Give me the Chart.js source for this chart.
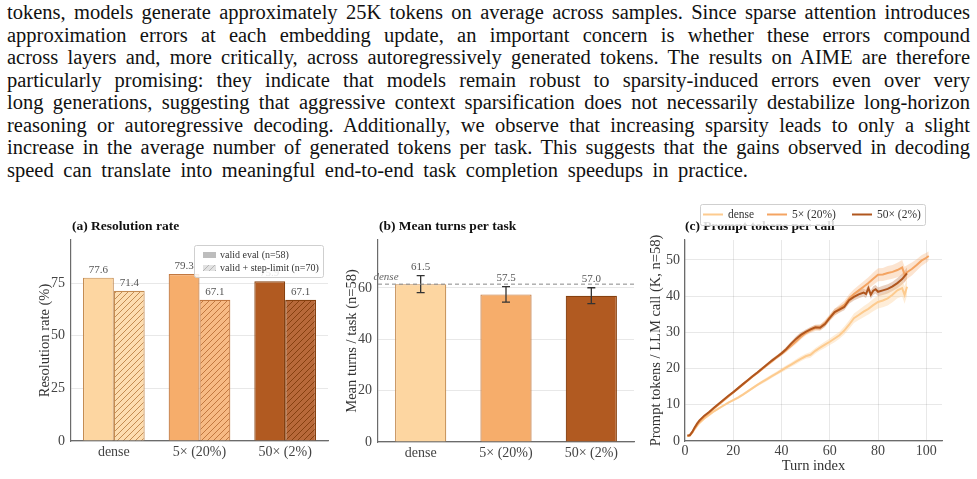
<!DOCTYPE html>
<html>
<head>
<meta charset="utf-8">
<script src="https://cdn.jsdelivr.net/npm/chart.js@4.4.1/dist/chart.umd.min.js"></script>
<style>
  html, body { margin: 0; padding: 0; background: #fff; width: 977px; height: 479px; overflow: hidden; }
  body { position: relative; }
  #text { position: absolute; left: 7px; top: 1px; width: 963px;
          font-family: "Liberation Serif", serif; font-size: 20.5px; line-height: 22.5px; color: #111; }
  #text div { text-align: justify; text-align-last: justify; word-spacing: -3px; white-space: nowrap; height: 22.5px; }
  #text div.last { width: 741px; word-spacing: 0; }
  canvas { position: absolute; }
</style>
</head>
<body>
<div id="text">
  <div>tokens, models generate approximately 25K tokens on average across samples. Since sparse attention introduces</div>
  <div>approximation errors at each embedding update, an important concern is whether these errors compound</div>
  <div>across layers and, more critically, across autoregressively generated tokens. The results on AIME are therefore</div>
  <div>particularly promising: they indicate that models remain robust to sparsity-induced errors even over very</div>
  <div>long generations, suggesting that aggressive context sparsification does not necessarily destabilize long-horizon</div>
  <div>reasoning or autoregressive decoding. Additionally, we observe that increasing sparsity leads to only a slight</div>
  <div>increase in the average number of generated tokens per task. This suggests that the gains observed in decoding</div>
  <div class="last">speed can translate into meaningful end-to-end task completion speedups in practice.</div>
</div>
<canvas id="chartA" width="340" height="269" style="left:0;top:210px"></canvas>
<canvas id="chartB" width="300" height="269" style="left:340px;top:210px"></canvas>
<canvas id="chartC" width="337" height="279" style="left:640px;top:200px"></canvas>

<script>
// keep every paragraph line on one row: shrink a line only if it would overflow
document.querySelectorAll("#text div").forEach(el => {
  let fs = 20.5;
  while (el.scrollWidth > el.clientWidth + 0.5 && fs > 17) {
    fs -= 0.25;
    el.style.fontSize = fs + "px";
  }
});

// ---- data ----
const categories = ["dense", "5× (20%)", "50× (2%)"];
const resolutionValid = [77.6, 79.3, 75.9];
const resolutionStepLimit = [71.4, 67.1, 67.1];
const meanTurns = [61.5, 57.5, 57.0];
const meanTurnsErr = [3.3, 3.0, 3.1];
const denseTurnsRef = 61.5;

const ticksA = [0, 25, 50, 75];
const ticksB = [0, 20, 40, 60];
const ticksCx = [0, 20, 40, 60, 80, 100];
const ticksCy = [0, 10, 20, 30, 40, 50];

const turnsDense = [1, 2, 3, 4, 5, 6, 8, 10, 12, 14, 16, 18, 20, 22, 24, 26, 28, 30, 32, 34, 36, 38, 40, 42, 44, 46, 48, 50,
  52, 54, 56, 58, 60, 62, 64, 66, 68, 70, 72, 74, 76, 78, 80, 82, 84, 86, 88, 90, 91, 92];
const tokensDense = [1.3, 1.5, 2.3, 3.3, 4.2, 5.0, 6.2, 7.2, 8.2, 9.0, 9.8, 10.6, 11.3, 12.0, 12.8, 13.7, 14.6, 15.5, 16.3, 17.1,
  17.9, 18.7, 19.5, 20.3, 21.1, 21.9, 22.7, 23.4, 23.8, 24.9, 25.8, 26.6, 27.4, 28.3, 29.2, 30.5, 32.1, 33.9, 34.8, 35.7,
  36.5, 37.5, 38.4, 38.8, 39.4, 40.4, 41.6, 42.2, 40.3, 42.6];
const bandDense = [0.1, 0.1, 0.1, 0.2, 0.2, 0.2, 0.2, 0.3, 0.3, 0.3, 0.3, 0.3, 0.3, 0.4, 0.4, 0.4, 0.4, 0.4, 0.5, 0.5,
  0.5, 0.5, 0.6, 0.6, 0.6, 0.7, 0.7, 0.7, 0.8, 0.8, 0.8, 0.9, 0.9, 1.0, 1.0, 1.1, 1.2, 1.3, 1.4, 1.5,
  1.6, 1.7, 1.8, 1.9, 2.0, 2.1, 2.2, 2.3, 2.4, 2.4];

const turns5x = [1, 2, 3, 4, 5, 6, 8, 10, 12, 14, 16, 18, 20, 22, 24, 26, 28, 30, 32, 34, 36, 38, 40, 42, 44, 46, 48, 50,
  52, 54, 56, 58, 60, 62, 64, 66, 68, 70, 72, 74, 76, 78, 80, 82, 84, 86, 88, 90, 91, 92, 94, 96, 98, 100, 101];
const tokens5x = [1.4, 1.6, 2.4, 3.5, 4.5, 5.4, 6.7, 7.8, 9.0, 10.1, 11.2, 12.3, 13.4, 14.5, 15.6, 16.7, 17.8, 18.8, 19.9, 21.0,
  22.0, 23.1, 24.1, 25.1, 26.3, 27.5, 28.7, 29.8, 30.6, 31.2, 31.4, 32.5, 34.1, 35.5, 36.6, 37.6, 39.3, 40.6, 41.6, 42.6,
  43.6, 44.8, 45.9, 46.0, 46.4, 46.7, 47.2, 47.9, 45.9, 46.6, 47.5, 48.6, 49.8, 50.6, 51.1];
const band5x = [0.1, 0.1, 0.1, 0.2, 0.2, 0.2, 0.2, 0.3, 0.3, 0.3, 0.3, 0.3, 0.3, 0.4, 0.4, 0.4, 0.4, 0.4, 0.4, 0.5,
  0.5, 0.5, 0.6, 0.6, 0.6, 0.7, 0.7, 0.7, 0.8, 0.8, 0.8, 0.9, 0.9, 1.0, 1.0, 1.1, 1.2, 1.3, 1.4, 1.5,
  1.6, 1.7, 1.8, 1.8, 1.9, 1.9, 2.0, 2.1, 2.2, 1.9, 1.8, 1.6, 1.5, 1.4, 1.3];

const turns50x = [1, 2, 3, 4, 5, 6, 8, 10, 12, 14, 16, 18, 20, 22, 24, 26, 28, 30, 32, 34, 36, 38, 40, 42, 44, 46, 48, 50,
  52, 54, 56, 58, 60, 62, 64, 66, 68, 70, 72, 74, 75, 76, 77, 78, 79, 80, 82, 84, 86, 88, 90, 91, 92];
const tokens50x = [1.5, 1.6, 2.5, 3.7, 4.8, 5.7, 7.0, 8.0, 9.2, 10.3, 11.4, 12.5, 13.5, 14.6, 15.7, 16.8, 17.9, 18.9, 20.0, 21.1,
  22.2, 23.2, 24.2, 25.4, 26.9, 28.2, 29.3, 30.1, 30.8, 31.4, 31.3, 32.3, 34.0, 35.6, 36.3, 37.0, 38.9, 39.8, 40.5, 41.0,
  40.6, 42.2, 40.4, 41.5, 41.9, 41.2, 41.6, 42.0, 42.7, 43.6, 44.7, 45.5, 46.3];
const band50x = [0.1, 0.1, 0.1, 0.2, 0.2, 0.2, 0.2, 0.3, 0.3, 0.3, 0.3, 0.3, 0.3, 0.3, 0.4, 0.4, 0.4, 0.4, 0.4, 0.4,
  0.5, 0.5, 0.5, 0.6, 0.6, 0.7, 0.7, 0.7, 0.7, 0.7, 0.8, 0.8, 0.8, 0.9, 0.9, 0.9, 1.0, 1.0, 1.1, 1.1,
  1.1, 1.2, 1.2, 1.2, 1.2, 1.2, 1.3, 1.3, 1.3, 1.4, 1.5, 1.6, 1.6];

// ---- styling ----
const SERIF = '"Liberation Serif", "Times New Roman", serif';
const FILL  = ["#FDD6A1", "#F6AD6B", "#B15A21"];
const EDGE  = ["#C48C52", "#C27840", "#86400F"];
const HATCH_BG = ["#FDDDB0", "#F7BA84", "#B8693A"];
const LINE  = ["#FDCB8F", "#F4A462", "#B0561E"];
const BAND  = ["rgba(253,203,143,0.35)", "rgba(244,164,98,0.30)", "rgba(176,86,30,0.28)"];
const GRID  = "rgba(0,0,0,0.09)";
const AXIS  = "#6b6b6b";
const TICK  = "#444";

function hatch(bg, fg) {
  const c = document.createElement("canvas");
  c.width = 6; c.height = 6;
  const g = c.getContext("2d");
  g.fillStyle = bg; g.fillRect(0, 0, 6, 6);
  g.strokeStyle = fg; g.lineWidth = 1;
  g.beginPath();
  g.moveTo(0, 6); g.lineTo(6, 0);
  g.moveTo(-1, 1); g.lineTo(1, -1);
  g.moveTo(5, 7); g.lineTo(7, 5);
  g.stroke();
  return g.createPattern(c, "repeat");
}

// ---- plugins ----
const panelTitle = {
  id: "panelTitle",
  afterDraw(chart, args, o) {
    const ctx = chart.ctx;
    ctx.save();
    ctx.font = "bold 13.5px " + SERIF;
    ctx.fillStyle = "#111";
    ctx.textBaseline = "middle";
    ctx.fillText(o.text, o.x, o.y);
    ctx.restore();
  }
};

const barLabels = {
  id: "barLabels",
  afterDatasetsDraw(chart, args, o) {
    const ctx = chart.ctx, y = chart.scales.y;
    ctx.save();
    // error bars
    if (o.err) {
      const meta = chart.getDatasetMeta(0);
      ctx.strokeStyle = "#333"; ctx.lineWidth = 1.3;
      meta.data.forEach((bar, j) => {
        const v = chart.data.datasets[0].data[j];
        const hi = y.getPixelForValue(v + o.err[j]), lo = y.getPixelForValue(v - o.err[j]);
        ctx.beginPath();
        ctx.moveTo(bar.x, hi); ctx.lineTo(bar.x, lo);
        ctx.moveTo(bar.x - 4, hi); ctx.lineTo(bar.x + 4, hi);
        ctx.moveTo(bar.x - 4, lo); ctx.lineTo(bar.x + 4, lo);
        ctx.stroke();
      });
    }
    // reference line
    if (o.ref != null) {
      const py = y.getPixelForValue(o.ref);
      ctx.strokeStyle = "#888"; ctx.lineWidth = 1; ctx.setLineDash([4, 3]);
      ctx.beginPath(); ctx.moveTo(chart.chartArea.left, py); ctx.lineTo(chart.chartArea.right, py); ctx.stroke();
      ctx.setLineDash([]);
      ctx.font = "italic 11px " + SERIF; ctx.fillStyle = "#666";
      ctx.textAlign = "center"; ctx.textBaseline = "middle";
      ctx.fillText("dense", chart.chartArea.left + 8, py - 7);
    }
    // value labels
    ctx.font = "11px " + SERIF; ctx.fillStyle = "#555";
    ctx.textAlign = "center"; ctx.textBaseline = "middle";
    chart.data.datasets.forEach((ds, i) => {
      chart.getDatasetMeta(i).data.forEach((bar, j) => {
        const v = ds.data[j];
        const top = o.err ? y.getPixelForValue(v + o.err[j]) : bar.y;
        ctx.fillText(v.toFixed(1), bar.x, top - o.gap);
      });
    });
    ctx.restore();
  }
};

const boxLegend = {
  id: "boxLegend",
  afterDraw(chart, args, o) {
    const ctx = chart.ctx;
    ctx.save();
    ctx.fillStyle = "rgba(255,255,255,0.85)";
    ctx.strokeStyle = "#cfcfcf"; ctx.lineWidth = 1;
    ctx.beginPath();
    ctx.roundRect(o.x + 0.5, o.y + 0.5, o.w, o.h, 2);
    ctx.fill(); ctx.stroke();
    ctx.font = o.fontSize + "px " + SERIF; ctx.fillStyle = "#333";
    ctx.textBaseline = "middle";
    o.items.forEach(it => {
      const label = chart.data.datasets[it.ds].label;
      if (it.patch) {
        ctx.fillStyle = it.patch;
        ctx.fillRect(it.mx, it.my - 3, 13, 6);
      } else {
        ctx.strokeStyle = it.line; ctx.lineWidth = 2;
        ctx.beginPath(); ctx.moveTo(it.mx, it.my); ctx.lineTo(it.mx + 20, it.my); ctx.stroke();
      }
      ctx.fillStyle = "#333";
      ctx.fillText(label, it.tx, it.my);
    });
    ctx.restore();
  }
};

const fixedTicks = arr => scale => { scale.ticks = arr.map(v => ({ value: v })); };
const tickFont = { family: SERIF, size: 14 };
const titleFont = { family: SERIF, size: 14.5 };

// ---- (a) Resolution rate ----
new Chart(document.getElementById("chartA"), {
  type: "bar",
  data: {
    labels: categories,
    datasets: [
      { label: "valid eval (n=58)", data: resolutionValid, backgroundColor: FILL, borderColor: EDGE, borderWidth: 1.2 },
      { label: "valid + step-limit (n=70)", data: resolutionStepLimit,
        backgroundColor: HATCH_BG.map((c, i) => hatch(c, EDGE[i])), borderColor: EDGE, borderWidth: 1.2 }
    ]
  },
  options: {
    responsive: false, animation: false,
    layout: { padding: { left: 0, top: 30, right: 12, bottom: 0 } },
    datasets: { bar: { categoryPercentage: 0.72, barPercentage: 1 } },
    scales: {
      x: {
        grid: { color: "rgba(0,0,0,0)", drawTicks: false },
        border: { color: AXIS, width: 1.2 },
        ticks: { color: TICK, font: { family: SERIF, size: 14 }, padding: 3 },
        afterFit: s => { s.height = 38; }
      },
      y: {
        min: 0, max: 95.5,
        afterBuildTicks: fixedTicks(ticksA),
        grid: { color: GRID, drawTicks: false },
        border: { color: AXIS, width: 1.2 },
        ticks: { color: TICK, font: tickFont, padding: 6 },
        title: { display: true, text: "Resolution rate (%)", color: "#333", font: titleFont, padding: { top: 36.3, bottom: 0 } },
        afterFit: s => { s.width = 71; }
      }
    },
    plugins: {
      legend: { display: false }, tooltip: { enabled: false },
      panelTitle: { text: "(a) Resolution rate", x: 72, y: 17 },
      barLabels: { gap: 8 },
      boxLegend: {
        x: 194, y: 35, w: 129, h: 32, fontSize: 10,
        items: [
          { ds: 0, patch: "#bdbdbd", mx: 203, my: 45, tx: 220 },
          { ds: 1, patch: hatch("#e2e2e2", "#b5b5b5"), mx: 203, my: 58, tx: 220 }
        ]
      }
    }
  },
  plugins: [panelTitle, barLabels, boxLegend]
});

// ---- (b) Mean turns per task ----
new Chart(document.getElementById("chartB"), {
  type: "bar",
  data: {
    labels: categories,
    datasets: [{ label: "mean turns", data: meanTurns, backgroundColor: FILL, borderColor: EDGE, borderWidth: 1.2 }]
  },
  options: {
    responsive: false, animation: false,
    layout: { padding: { left: 0, top: 30, right: 6, bottom: 0 } },
    datasets: { bar: { categoryPercentage: 0.6, barPercentage: 1 } },
    scales: {
      x: {
        grid: { color: "rgba(0,0,0,0)", drawTicks: false },
        border: { color: AXIS, width: 1.2 },
        ticks: { color: TICK, font: { family: SERIF, size: 14 }, padding: 3 },
        afterFit: s => { s.height = 37; }
      },
      y: {
        min: 0, max: 78.7,
        afterBuildTicks: fixedTicks(ticksB),
        grid: { color: GRID, drawTicks: false },
        border: { color: AXIS, width: 1.2 },
        ticks: { color: TICK, font: tickFont, padding: 6 },
        title: { display: true, text: "Mean turns / task (n=58)", color: "#333", font: titleFont, padding: { top: 3, bottom: 0 } },
        afterFit: s => { s.width = 38; }
      }
    },
    plugins: {
      legend: { display: false }, tooltip: { enabled: false },
      panelTitle: { text: "(b) Mean turns per task", x: 39, y: 17 },
      barLabels: { gap: 9, err: meanTurnsErr, ref: denseTurnsRef }
    }
  },
  plugins: [panelTitle, barLabels]
});

// ---- (c) Prompt tokens per call ----
const pts = (xs, ys, hw, sign) => xs.map((x, i) => ({ x: x, y: ys[i] + (hw ? sign * hw[i] : 0) }));
const bandSets = [
  [turnsDense, tokensDense, bandDense],
  [turns5x, tokens5x, band5x],
  [turns50x, tokens50x, band50x]
];
const cDatasets = [];
bandSets.forEach(([xs, ys, hw], i) => {
  cDatasets.push({ label: "lo", data: pts(xs, ys, hw, -1), borderWidth: 0, pointRadius: 0, fill: false, order: 1 });
  cDatasets.push({ label: "hi", data: pts(xs, ys, hw, 1), borderWidth: 0, pointRadius: 0, fill: "-1",
                   backgroundColor: BAND[i], order: 1 });
});
cDatasets.push({ label: "50× (2%)", data: pts(turns50x, tokens50x), borderColor: LINE[2], borderWidth: 2, pointRadius: 0, fill: false, order: 0 });
cDatasets.push({ label: "5× (20%)", data: pts(turns5x, tokens5x), borderColor: LINE[1], borderWidth: 2, pointRadius: 0, fill: false, order: 0 });
cDatasets.push({ label: "dense", data: pts(turnsDense, tokensDense), borderColor: LINE[0], borderWidth: 2, pointRadius: 0, fill: false, order: 0 });

new Chart(document.getElementById("chartC"), {
  type: "line",
  data: { datasets: cDatasets },
  options: {
    responsive: false, animation: false,
    layout: { padding: { left: 0, top: 40, right: 35, bottom: 0 } },
    elements: { line: { tension: 0 } },
    scales: {
      x: {
        type: "linear", min: 0, max: 106.5,
        afterBuildTicks: fixedTicks(ticksCx),
        grid: { color: GRID, drawTicks: false },
        border: { color: AXIS, width: 1.2 },
        ticks: { color: TICK, font: tickFont, padding: 2 },
        title: { display: true, text: "Turn index", color: "#333", font: titleFont, padding: { top: 0, bottom: 4.5 } },
        afterFit: s => { s.height = 38; }
      },
      y: {
        min: 0, max: 55.5,
        afterBuildTicks: fixedTicks(ticksCy),
        grid: { color: GRID, drawTicks: false },
        border: { color: AXIS, width: 1.2 },
        ticks: { color: TICK, font: tickFont, padding: 5 },
        title: { display: true, text: "Prompt tokens / LLM call (K, n=58)", color: "#333", font: titleFont, padding: { top: 7.8, bottom: 0 } },
        afterFit: s => { s.width = 45; }
      }
    },
    plugins: {
      legend: { display: false }, tooltip: { enabled: false },
      panelTitle: { text: "(c) Prompt tokens per call", x: 45, y: 27 },
      boxLegend: {
        x: 60, y: 4, w: 225, h: 21, fontSize: 11.5,
        items: [
          { ds: 8, line: LINE[0], mx: 63, my: 14.5, tx: 88 },
          { ds: 7, line: LINE[1], mx: 127, my: 14.5, tx: 152 },
          { ds: 6, line: LINE[2], mx: 212, my: 14.5, tx: 237 }
        ]
      }
    }
  },
  plugins: [panelTitle, boxLegend]
});
</script>
</body>
</html>
